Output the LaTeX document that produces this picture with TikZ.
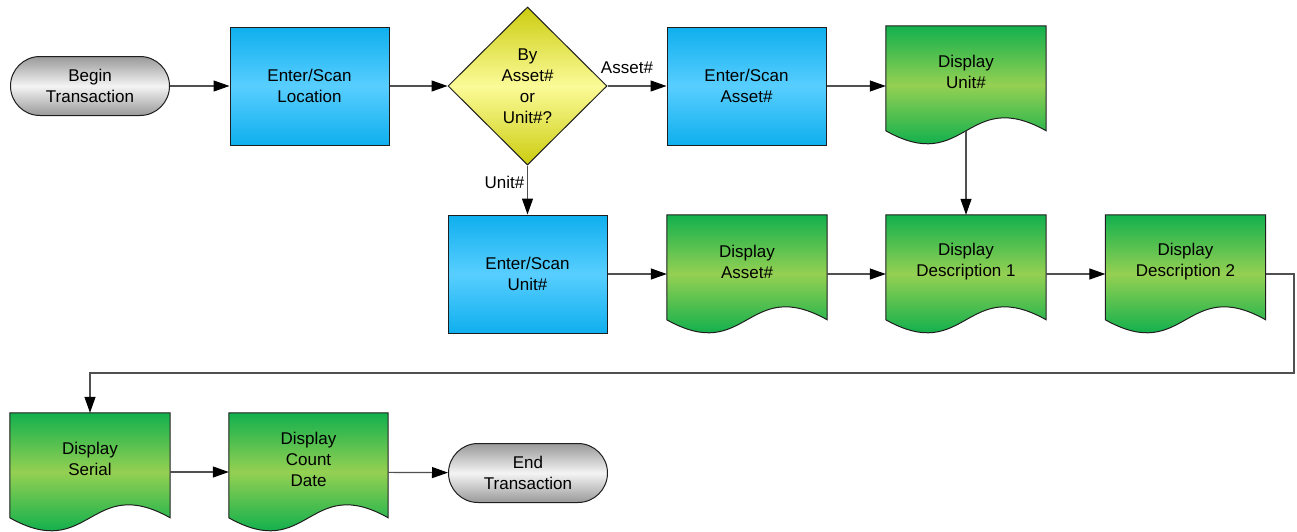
\documentclass[tikz,border=0pt]{standalone}
\usepackage{fontspec}
\setmainfont{Liberation Sans}
\usetikzlibrary{shapes.geometric,arrows.meta,calc}
\pgfdeclarelayer{bg}
\pgfsetlayers{bg,main}
\definecolor{bluetop}{HTML}{0FAFEE}
\definecolor{bluemid}{HTML}{58CEFF}
\definecolor{greentop}{HTML}{12B04D}
\definecolor{greenmid}{HTML}{94D052}
\definecolor{graytop}{HTML}{999999}
\definecolor{graymid}{HTML}{F4F4F4}
\definecolor{yeltop}{HTML}{CCCC10}
\definecolor{yelmid}{HTML}{FBFB98}
\definecolor{edgecol}{HTML}{1E1E1E}
\definecolor{linecol}{HTML}{505050}
\tikzset{
  every node/.style={font=\fontsize{17}{21}\selectfont, align=center, text=black},
  procbox/.style={rectangle, draw=edgecol, line width=1pt, minimum width=159pt, minimum height=118pt,
    inner sep=0pt, top color=bluetop, bottom color=bluetop, middle color=bluemid},
  termbox/.style={rectangle, rounded corners=29.5pt, draw=edgecol, line width=1pt, minimum width=159pt,
    minimum height=59pt, inner sep=0pt, top color=graytop, bottom color=graytop, middle color=graymid},
  decbox/.style={diamond, draw=edgecol, line width=1pt, minimum width=159pt, minimum height=158pt,
    inner sep=0pt, aspect=1, top color=yeltop, bottom color=yeltop, middle color=yelmid},
  docnode/.style={rectangle, minimum width=160pt, minimum height=118pt, inner sep=0pt},
  docfill/.style={top color=greentop, bottom color=greentop, middle color=greenmid},
  docline/.style={draw=edgecol, line width=1pt},
  arr/.style={draw=linecol, line width=1.2pt, -{Triangle[length=16pt,width=11pt,color=black]}},
  lbl/.style={font=\fontsize{17}{21}\selectfont, inner sep=1pt},
}
\newcommand\docpath[1]{(#1.north west) -- (#1.north east) -- ([yshift=-105pt]#1.north east)
    .. controls ([yshift=-60pt]#1.north) and ([yshift=-150pt]#1.north) .. ([yshift=-105pt]#1.north west) -- cycle}
\newcommand\docshape[1]{%
  \begin{scope}
    \clip \docpath{#1};
    \shade[docfill] (#1.north west) rectangle (#1.south east);
  \end{scope}
  \draw[docline] \docpath{#1};}
\begin{document}
\begin{tikzpicture}[x=1pt,y=-1pt]
\useasboundingbox (0,0) rectangle (1297,531);
% row 1
\node[termbox] (begin) at (90,86) {Begin\\Transaction};
\node[procbox] (loc) at (309.5,86) {Enter/Scan\\Location};
\node[decbox] (dec) at (527.5,86) {By\\Asset\#\\or\\Unit\#?};
\node[procbox] (easset) at (746.5,86) {Enter/Scan\\Asset\#};
\node[docnode, label={[yshift=13.5pt]center:Display\\Unit\#}] (dunit) at (966,85) {};
% row 2
\node[procbox] (eunit) at (527.5,274) {Enter/Scan\\Unit\#};
\node[docnode, label={[yshift=12.5pt]center:Display\\Asset\#}] (dasset) at (747,274) {};
\node[docnode, label={[yshift=12.5pt]center:Display\\Description 1}] (desc1) at (966,274) {};
\node[docnode, label={[yshift=12.5pt]center:Display\\Description 2}] (desc2) at (1185.5,274) {};
% row 3
\node[docnode, label={[yshift=13pt]center:Display\\Serial}] (serial) at (90,472) {};
\node[docnode, minimum width=159pt, label={[yshift=13pt]center:Display\\Count\\Date}] (cdate) at (308.5,472) {};
\node[termbox] (end) at (528,473) {End\\Transaction};
\begin{pgfonlayer}{bg}
\docshape{dunit}
\docshape{dasset}
\docshape{desc1}
\docshape{desc2}
\docshape{serial}
\docshape{cdate}
\end{pgfonlayer}
\coordinate (turn) at (1294,373);
% connectors
\draw[arr] (begin) -- (loc);
\draw[arr] (loc) -- (dec);
\draw[arr] (dec.east) -- node[lbl, pos=0.33, yshift=18pt] {Asset\#} (easset.west);
\draw[arr] (dec.south) -- node[lbl, pos=0.34, xshift=-23pt] {Unit\#} (eunit.north);
\draw[arr] (easset) -- (dunit.west |- easset);
\draw[arr] ([yshift=-105pt]dunit.north) -- (desc1.north);
\draw[arr] (eunit) -- (dasset);
\draw[arr] (dasset) -- (desc1);
\draw[arr] (desc1) -- (desc2);
\draw[arr] (desc2.east) -| (turn) -| (serial.north);
\draw[arr] (serial) -- (cdate);
\draw[arr] (cdate) -- (end);
\end{tikzpicture}
\end{document}
